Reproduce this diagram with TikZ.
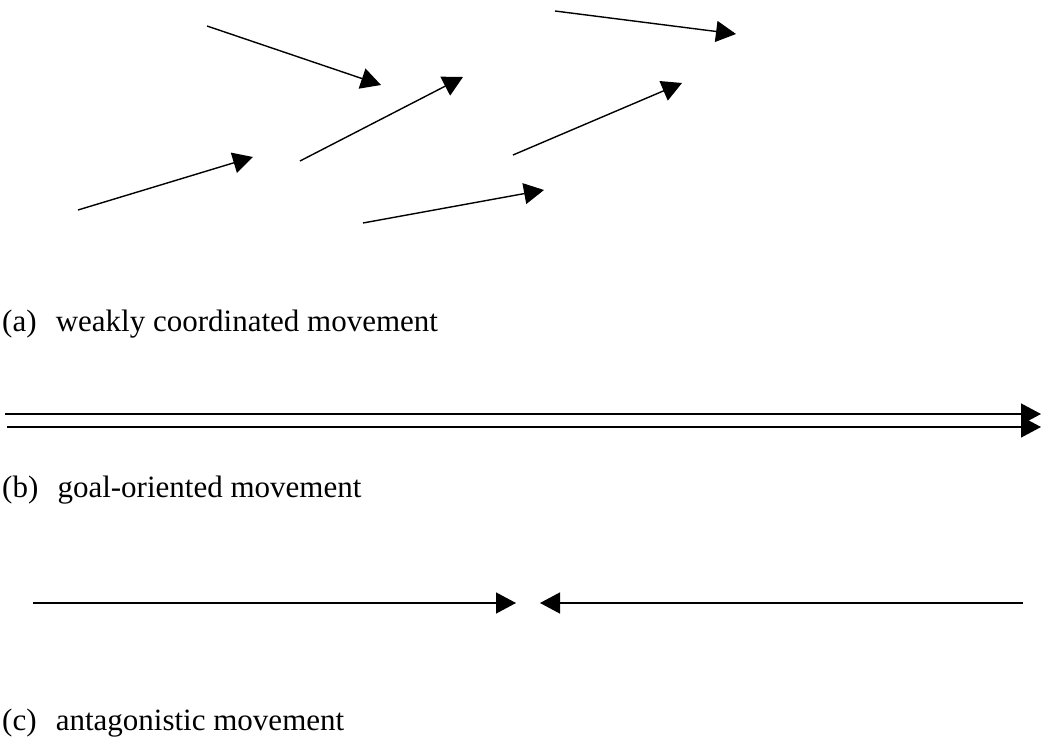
\documentclass[tikz,border=0pt]{standalone}
\usepackage{fontspec}
\setmainfont{Liberation Serif}
\usetikzlibrary{arrows.meta}
\begin{document}
\begin{tikzpicture}[x=1pt,y=-1pt,
  mv/.style={line width=1.4pt,-{Triangle[length=20pt,width=21pt]}},
  lbl/.style={anchor=base west,inner sep=0pt,font=\fontsize{31}{34}\selectfont}]
\useasboundingbox (0,0) rectangle (1041,738);
% (a)
\coordinate (a1s) at (207,26);  \coordinate (a1e) at (381,85);
\coordinate (a2s) at (78,210);  \coordinate (a2e) at (253,157);
\coordinate (a3s) at (300,161); \coordinate (a3e) at (463,77);
\coordinate (a4s) at (555,11);  \coordinate (a4e) at (736,34);
\coordinate (a5s) at (513,155); \coordinate (a5e) at (682,83);
\coordinate (a6s) at (363,223); \coordinate (a6e) at (544,190);
\draw[mv] (a1s) -- (a1e);
\draw[mv] (a2s) -- (a2e);
\draw[mv] (a3s) -- (a3e);
\draw[mv] (a4s) -- (a4e);
\draw[mv] (a5s) -- (a5e);
\draw[mv] (a6s) -- (a6e);
\node[lbl] (la) at (2,331) {(a)\hspace{0.62em}weakly coordinated movement};
% (b)
\coordinate (b1s) at (5,414); \coordinate (b1e) at (1041,414);
\coordinate (b2s) at (7,427); \coordinate (b2e) at (1041,427);
\draw[mv] (b1s) -- (b1e);
\draw[mv] (b2s) -- (b2e);
\node[lbl] (lb) at (2,497) {(b)\hspace{0.62em}goal-oriented movement};
% (c)
\coordinate (c1s) at (33,603); \coordinate (c1e) at (516,603);
\coordinate (c2s) at (1023,603); \coordinate (c2e) at (540,603);
\draw[mv] (c1s) -- (c1e);
\draw[mv] (c2s) -- (c2e);
\node[lbl] (lc) at (2,730) {(c)\hspace{0.62em}antagonistic movement};
\end{tikzpicture}
\end{document}
